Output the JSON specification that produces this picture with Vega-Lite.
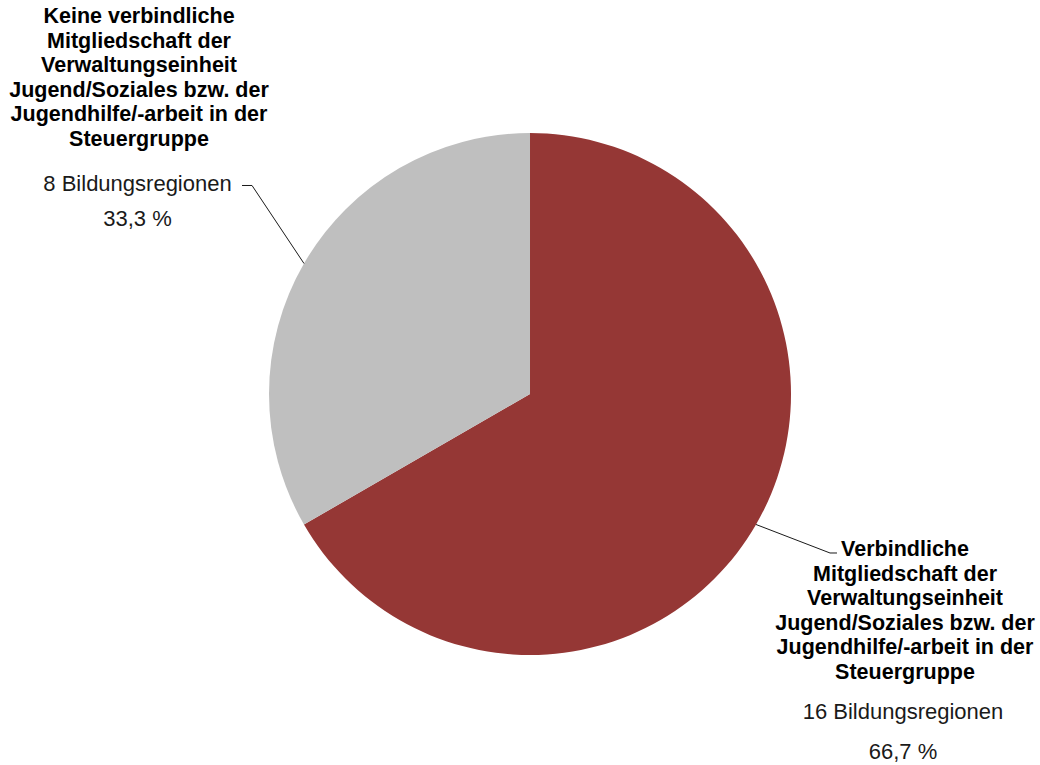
{
  "$schema": "https://vega.github.io/schema/vega-lite/v6.json",
  "width": 1040,
  "height": 765,
  "padding": 0,
  "autosize": {"type": "none"},
  "background": "white",
  "config": {"view": {"stroke": null}},
  "datasets": {
    "slices": [
      {"idx": 1, "kategorie": "Verbindliche Mitgliedschaft", "regionen": 16},
      {"idx": 2, "kategorie": "Keine verbindliche Mitgliedschaft", "regionen": 8}
    ],
    "labels": [
      {"u": -1.4981, "v": 1.4444, "text": "Keine verbindliche", "bold": true},
      {"u": -1.4981, "v": 1.3502, "text": "Mitgliedschaft der", "bold": true},
      {"u": -1.4981, "v": 1.2559, "text": "Verwaltungseinheit", "bold": true},
      {"u": -1.4981, "v": 1.1617, "text": "Jugend/Soziales bzw. der", "bold": true},
      {"u": -1.4981, "v": 1.0674, "text": "Jugendhilfe/-arbeit in der", "bold": true},
      {"u": -1.4981, "v": 0.9732, "text": "Steuergruppe", "bold": true},
      {"u": -1.5038, "v": 0.8046, "text": "8 Bildungsregionen", "bold": false},
      {"u": -1.5038, "v": 0.6705, "text": "33,3 %", "bold": false},
      {"u": 1.4368, "v": -0.5977, "text": "Verbindliche", "bold": true},
      {"u": 1.4368, "v": -0.6920, "text": "Mitgliedschaft der", "bold": true},
      {"u": 1.4368, "v": -0.7862, "text": "Verwaltungseinheit", "bold": true},
      {"u": 1.4368, "v": -0.8805, "text": "Jugend/Soziales bzw. der", "bold": true},
      {"u": 1.4368, "v": -0.9747, "text": "Jugendhilfe/-arbeit in der", "bold": true},
      {"u": 1.4368, "v": -1.0690, "text": "Steuergruppe", "bold": true},
      {"u": 1.4291, "v": -1.2184, "text": "16 Bildungsregionen", "bold": false},
      {"u": 1.4291, "v": -1.3716, "text": "66,7 %", "bold": false}
    ],
    "leaders": [
      {"seg": "links", "ord": 1, "u": -1.1034, "v": 0.7989},
      {"seg": "links", "ord": 2, "u": -1.0651, "v": 0.7989},
      {"seg": "links", "ord": 3, "u": -0.8659, "v": 0.5},
      {"seg": "rechts", "ord": 1, "u": 0.8659, "v": -0.5},
      {"seg": "rechts", "ord": 2, "u": 1.1494, "v": -0.6092},
      {"seg": "rechts", "ord": 3, "u": 1.1762, "v": -0.6092}
    ]
  },
  "resolve": {"scale": {"x": "shared", "y": "shared"}},
  "layer": [
    {
      "data": {"name": "slices"},
      "mark": {"type": "arc", "outerRadius": 261},
      "encoding": {
        "x": {"datum": 0, "type": "quantitative", "scale": {"domain": [-2.0307, 1.954], "nice": false, "zero": false}, "axis": null},
        "y": {"datum": 0, "type": "quantitative", "scale": {"domain": [-1.4215, 1.5096], "nice": false, "zero": false}, "axis": null},
        "theta": {"field": "regionen", "type": "quantitative", "stack": true},
        "order": {"field": "idx", "type": "quantitative"},
        "color": {
          "field": "kategorie",
          "type": "nominal",
          "scale": {"domain": ["Verbindliche Mitgliedschaft", "Keine verbindliche Mitgliedschaft"], "range": ["#953735", "#BFBFBF"]},
          "legend": null
        }
      }
    },
    {
      "data": {"name": "leaders"},
      "mark": {"type": "line", "color": "#1a1a1a", "strokeWidth": 1},
      "encoding": {
        "x": {"field": "u", "type": "quantitative"},
        "y": {"field": "v", "type": "quantitative"},
        "detail": {"field": "seg"},
        "order": {"field": "ord", "type": "quantitative"}
      }
    },
    {
      "data": {"name": "labels"},
      "transform": [{"filter": "datum.bold"}],
      "mark": {"type": "text", "font": "Liberation Sans", "fontSize": 21.5, "fontWeight": "bold", "align": "center", "baseline": "middle", "color": "#000000"},
      "encoding": {
        "x": {"field": "u", "type": "quantitative"},
        "y": {"field": "v", "type": "quantitative"},
        "text": {"field": "text"}
      }
    },
    {
      "data": {"name": "labels"},
      "transform": [{"filter": "!datum.bold"}],
      "mark": {"type": "text", "font": "Liberation Sans", "fontSize": 22, "align": "center", "baseline": "middle", "color": "#1a1a1a"},
      "encoding": {
        "x": {"field": "u", "type": "quantitative"},
        "y": {"field": "v", "type": "quantitative"},
        "text": {"field": "text"}
      }
    }
  ]
}
